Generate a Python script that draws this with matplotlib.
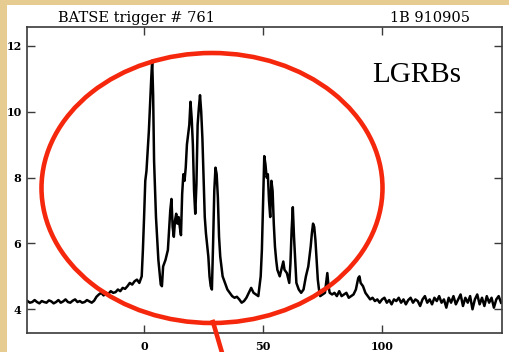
import matplotlib.pyplot as plt
from matplotlib.patches import Ellipse, Rectangle
from matplotlib.lines import Line2D

# BATSE light curve, trigger 761 (seconds since trigger, rate in 10^3 counts/s)
t_sec = [
    -49, -48, -47, -46, -45, -44, -43, -42, -41, -40,
    -39, -38, -37, -36, -35, -34, -33, -32, -31, -30,
    -29, -28, -27, -26, -25, -24, -23, -22, -21, -20,
    -19, -18, -17, -16, -15, -14, -13, -12, -11, -10,
    -9, -8, -7, -6, -5, -4, -3, -2, -1, -0.5,
    0, 0.5, 1, 1.5, 2, 2.5, 3, 3.4, 3.8, 4.2,
    5, 6, 7, 7.5, 8, 9, 10, 11, 11.5, 12,
    12.5, 13, 13.5, 14, 14.5, 15, 15.5, 16, 16.5, 17,
    17.5, 18, 18.5, 19, 19.5, 20, 20.5, 21, 21.5, 22,
    22.5, 23, 23.5, 24, 24.5, 25, 25.5, 26, 27, 27.5,
    28, 28.5, 29, 29.5, 30, 30.5, 31, 31.5, 32, 33,
    34, 35, 36, 37, 38, 39, 40, 41, 42, 43,
    44, 45, 46, 47, 48, 49, 49.5, 50, 50.5, 51,
    51.5, 52, 52.5, 53, 53.5, 54, 54.5, 55, 55.5, 56,
    57, 58, 58.5, 59, 60, 61, 61.5, 62, 62.5, 63,
    63.5, 64, 65, 66, 67, 68, 69, 70, 70.5, 71,
    71.5, 72, 72.5, 73, 73.5, 74, 75, 76, 77, 77.5,
    78, 79, 80, 81, 82, 83, 84, 85, 86, 87,
    88, 89, 90, 90.5, 91, 92, 93, 94, 95, 96,
    97, 98, 99, 100, 101, 102, 103, 104, 105, 106,
    107, 108, 109, 110, 111, 112, 113, 114, 115, 116,
    117, 118, 119, 120, 121, 122, 123, 124, 125, 126,
    127, 128, 129, 130, 131, 132, 133, 134, 135, 136,
    137, 138, 139, 140, 141, 142, 143, 144, 145, 146,
    147, 148, 149, 150,
]
rate = [
    4.25, 4.20, 4.22, 4.28, 4.22, 4.18, 4.25, 4.22, 4.20, 4.27,
    4.24, 4.18, 4.22, 4.28, 4.20, 4.24, 4.30, 4.22, 4.20, 4.26,
    4.30, 4.22, 4.25, 4.20, 4.22, 4.28, 4.24, 4.20, 4.26, 4.38,
    4.45, 4.50, 4.42, 4.50, 4.47, 4.55, 4.50, 4.52, 4.60, 4.55,
    4.65, 4.62, 4.70, 4.80, 4.75, 4.85, 4.90, 4.80, 5.00, 5.80,
    6.80, 7.90, 8.20, 8.80, 9.40, 10.20, 11.00, 11.55, 10.50, 8.50,
    6.80, 5.50, 4.75, 4.70, 5.30, 5.50, 5.80, 7.00, 7.35, 6.50,
    6.20, 6.70, 6.90, 6.60, 6.80, 6.50, 6.25, 7.50, 8.10, 7.90,
    8.30, 9.00, 9.30, 9.60, 10.30, 9.80, 9.00, 7.60, 6.90, 7.80,
    9.60, 10.10, 10.50, 10.00, 9.20, 8.00, 6.80, 6.30, 5.60, 5.00,
    4.70, 4.60, 6.00, 7.60, 8.30, 8.10, 7.40, 6.20, 5.60, 5.00,
    4.80, 4.60, 4.50, 4.40, 4.35, 4.38, 4.30, 4.20, 4.25, 4.35,
    4.50, 4.65, 4.50, 4.45, 4.40, 5.00, 5.80, 7.20, 8.65, 8.40,
    8.00, 8.10, 7.30, 6.80, 7.90, 7.60, 6.60, 5.90, 5.50, 5.20,
    5.00, 5.30, 5.45, 5.20, 5.10, 4.80, 5.40, 6.40, 7.10, 6.20,
    5.50, 4.80, 4.60, 4.50, 4.60, 5.00, 5.30, 5.90, 6.30, 6.60,
    6.50, 6.10, 5.50, 4.90, 4.60, 4.40, 4.45, 4.50, 5.10, 4.70,
    4.50, 4.45, 4.50, 4.40, 4.55, 4.40, 4.45, 4.50, 4.35, 4.40,
    4.45, 4.60, 4.95, 5.00, 4.80, 4.70, 4.50, 4.40, 4.30, 4.35,
    4.25, 4.30, 4.20, 4.30, 4.35, 4.20, 4.28, 4.15, 4.30, 4.25,
    4.35, 4.20, 4.30, 4.15, 4.28, 4.35, 4.20, 4.30, 4.25, 4.10,
    4.30, 4.40, 4.20, 4.30, 4.15, 4.35, 4.25, 4.40, 4.20, 4.30,
    4.05, 4.35, 4.20, 4.40, 4.15, 4.30, 4.45, 4.10, 4.35, 4.20,
    4.40, 4.00, 4.30, 4.45, 4.15, 4.35, 4.10, 4.40, 4.20, 4.35,
    4.05, 4.30, 4.40, 4.20,
]

x_ticks = [0, 50, 100]
y_ticks = [4, 6, 8, 10, 12]
title_left = "BATSE trigger # 761"
title_right = "1B 910905"
tag = "LGRBs"

W, H = 510, 352
fig = plt.figure(figsize=(W / 100, H / 100), dpi=100)
fig.patch.set_facecolor("#e7cc91")


def fx(px):
    return px / W


def fy(py):
    return 1 - py / H


# white page over the parchment
fig.add_artist(Rectangle((fx(7), 0), 1 - fx(7), fy(5), transform=fig.transFigure,
                         facecolor="white", edgecolor="none", zorder=0))

ax = fig.add_axes([fx(27), fy(333), fx(502) - fx(27), fy(27) - fy(333)])
ax.set_facecolor("white")
ax.plot(t_sec, rate, color="black", lw=1.8)
ax.set_xlim(-49.2, 150.4)
ax.set_ylim(3.28, 12.57)
ax.set_xticks(x_ticks)
ax.set_yticks(y_ticks)

for side in ax.spines.values():
    side.set_color("#3a3a3a")
    side.set_linewidth(1.2)
ax.tick_params(direction="in", length=6, width=1, color="#3a3a3a",
               top=True, right=True, labelsize=8)
ax.tick_params(axis="x", pad=6)
ax.tick_params(axis="y", pad=4)
for lab in ax.get_xticklabels() + ax.get_yticklabels():
    lab.set_fontfamily("DejaVu Serif")
    lab.set_fontweight("bold")

fig.text(fx(58), fy(22), title_left, family="DejaVu Serif", fontsize=10.5,
         ha="left", va="baseline", color="black")
fig.text(fx(470), fy(22), title_right, family="DejaVu Serif", fontsize=10.5,
         ha="right", va="baseline", color="black")
fig.text(fx(417), fy(82), tag, family="Liberation Serif", fontsize=21,
         ha="center", va="baseline", color="black")

# red annotation ring and pointer
red = "#f5280e"
fig.add_artist(Ellipse((fx(212), fy(188)), fx(341), 270 / H, transform=fig.transFigure,
                       fill=False, edgecolor=red, lw=3.3, zorder=5))
fig.add_artist(Line2D([fx(213), fx(223)], [fy(322), fy(356)], transform=fig.transFigure,
                      color=red, lw=3.3, zorder=5))

fig.savefig("out.png", dpi=100, facecolor=fig.get_facecolor())
